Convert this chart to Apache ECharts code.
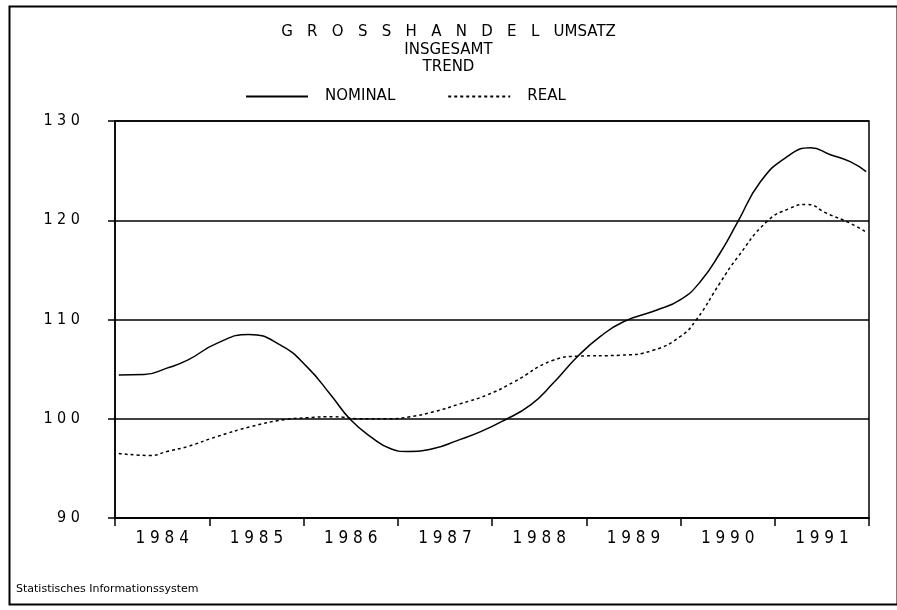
<!DOCTYPE html>
<html>
<head>
<meta charset="utf-8">
<script src="https://cdn.jsdelivr.net/npm/echarts@6/dist/echarts.min.js"></script>
<style>
html,body{margin:0;padding:0;background:#fff;}
#chart{width:897px;height:610px;}
</style>
</head>
<body>
<div id="chart"></div>
<script>
// Categories (year labels on the x axis)
const years = ['1984','1985','1986','1987','1988','1989','1990','1991'];
// Y tick labels range
const yMin = 90, yMax = 130, yStep = 10;

// NOMINAL trend (time in decimal years, index value)
const nominalTime = [1984.04,1984.31,1984.55,1984.77,1985.08,1985.42,1985.76,1986.04,1986.29,1986.50,1986.74,1986.92,1987.10,1987.38,1987.63,1987.88,1988.12,1988.41,1988.65,1988.90,1989.15,1989.40,1989.75,1990.00,1990.21,1990.42,1990.60,1990.85,1991.13,1991.38,1991.59,1991.80,1991.97];
const nominalValues = [104.4,104.45,105.1,105.9,107.6,108.5,107.4,105.2,102.4,99.9,98.0,97.0,96.7,97.0,97.8,98.7,99.8,101.4,103.6,106.2,108.3,109.8,110.95,112.0,113.8,116.7,119.7,123.9,126.4,127.3,126.6,125.9,124.9];

// REAL trend
const realTime = [1984.04,1984.38,1984.55,1984.77,1985.08,1985.44,1985.79,1986.04,1986.32,1986.60,1986.92,1987.13,1987.38,1987.66,1987.95,1988.23,1988.65,1988.90,1989.36,1989.71,1990.00,1990.17,1990.42,1990.60,1990.92,1991.16,1991.34,1991.55,1991.80,1991.97];
const realValues = [96.5,96.3,96.7,97.2,98.2,99.2,99.9,100.1,100.2,100.0,100.0,100.2,100.7,101.5,102.4,103.7,105.9,106.3,106.4,106.9,108.3,110.0,113.7,116.2,119.9,121.2,121.6,120.7,119.7,118.8];

const spaced = s => String(s).split('').join(' ');
const numFont = "'Liberation Sans Narrow','DejaVu Sans Condensed','Liberation Sans',sans-serif";
const txtFont = "'DejaVu Sans',sans-serif";

const chart = echarts.init(document.getElementById('chart'), null, {renderer:'canvas'});
chart.setOption({
  animation: false,
  backgroundColor: '#fff',
  title: [
    {text: 'G   R   O   S   S   H   A   N   D   E   L   UMSATZ', left: 'center', top: 20,
     textStyle: {fontFamily: txtFont, fontSize: 15, fontWeight: 'normal', color: '#000'}},
    {text: 'INSGESAMT', left: 'center', top: 38,
     textStyle: {fontFamily: txtFont, fontSize: 15, fontWeight: 'normal', color: '#000'}},
    {text: 'TREND', left: 'center', top: 55,
     textStyle: {fontFamily: txtFont, fontSize: 15, fontWeight: 'normal', color: '#000'}}
  ],
  legend: {
    left: 240, top: 84, itemWidth: 62, itemHeight: 14, itemGap: 52,
    itemStyle: {opacity: 0},
    textStyle: {fontFamily: txtFont, fontSize: 15, color: '#000', padding: [0,0,0,12]},
    data: ['NOMINAL','REAL']
  },
  grid: {left: 115, right: 28, top: 121, bottom: 92, show: true, borderColor: '#000', borderWidth: 1.5, backgroundColor: 'transparent'},
  xAxis: [
    {type: 'category', data: years, boundaryGap: true, position: 'bottom',
     axisLine: {lineStyle: {color: '#000', width: 1.5}},
     axisTick: {show: true, length: 8, lineStyle: {color: '#000', width: 1.5}},
     axisLabel: {color: '#000', fontFamily: numFont, fontSize: 17, margin: 12, formatter: v => spaced(v)},
     splitLine: {show: false}},
    {type: 'value', min: 1984, max: 1992, show: false}
  ],
  yAxis: {
    type: 'value', min: yMin, max: yMax, interval: yStep,
    axisLine: {show: true, lineStyle: {color: '#000', width: 1.5}},
    axisTick: {show: true, length: 7, lineStyle: {color: '#000', width: 1.5}},
    axisLabel: {color: '#000', fontFamily: numFont, fontSize: 16, margin: 35, padding: [0,0,8,0], formatter: v => spaced(v)},
    splitLine: {show: true, lineStyle: {color: '#000', width: 1.5}}
  },
  series: [
    {name: 'NOMINAL', type: 'line', xAxisIndex: 1, symbol: 'none', smooth: 0.5,
     lineStyle: {color: '#000', width: 1.5, type: 'solid'}, itemStyle: {color: '#000'},
     data: nominalTime.map((t, i) => [t, nominalValues[i]])},
    {name: 'REAL', type: 'line', xAxisIndex: 1, symbol: 'none', smooth: 0.5,
     lineStyle: {color: '#000', width: 1.5, type: [3, 3]}, itemStyle: {color: '#000'},
     data: realTime.map((t, i) => [t, realValues[i]])}
  ],
  graphic: [
    {type: 'rect', left: 7, top: 4, shape: {width: 888, height: 598}, style: {fill: null, stroke: '#000', lineWidth: 2}, silent: true},
    {type: 'text', left: 16, top: 584, style: {text: 'Statistisches Informationssystem', font: "11px 'DejaVu Sans',sans-serif", fill: '#000'}}
  ]
});
</script>
</body>
</html>
